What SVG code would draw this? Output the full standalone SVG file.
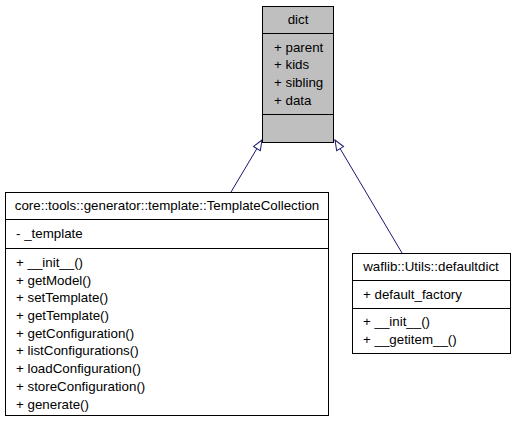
<svg xmlns="http://www.w3.org/2000/svg" width="515" height="421" viewBox="0 0 515 421">
<defs>
<style>
text{font-family:"Liberation Sans",Arial,sans-serif;font-size:13.33px;fill:#000}
.box{stroke:#000;stroke-width:1;fill:#fff}
.gray{fill:#bfbfbf}
.sep{stroke:#000;stroke-width:1}
.edge{stroke:#191970;stroke-width:1;fill:none}
.c{text-anchor:middle}
</style>
<marker id="tri" viewBox="0 0 12 10" refX="11" refY="5" markerWidth="12" markerHeight="10" markerUnits="userSpaceOnUse" orient="auto">
<path d="M1,1 L11,5 L1,9 Z" fill="#fff" stroke="#191970" stroke-width="1"/>
</marker>
</defs>
<rect width="515" height="421" fill="#fff"/>
<g id="edges">
<line class="edge" x1="231" y1="192" x2="262" y2="140" marker-end="url(#tri)"/>
<line class="edge" x1="402" y1="253" x2="335" y2="140" marker-end="url(#tri)"/>
</g>
<g id="dict">
<rect class="box gray" x="262.5" y="6.5" width="71" height="136"/>
<line class="sep" x1="262.5" y1="33.5" x2="333.5" y2="33.5"/>
<line class="sep" x1="262.5" y1="114.5" x2="333.5" y2="114.5"/>
<text class="c" x="298" y="24">dict</text>
<text x="274" y="52">+ parent</text>
<text x="274" y="69">+ kids</text>
<text x="274" y="87">+ sibling</text>
<text x="274" y="105">+ data</text>
</g>
<g id="TemplateCollection">
<rect class="box" x="5.5" y="192.5" width="323" height="223"/>
<line class="sep" x1="5.5" y1="219.5" x2="328.5" y2="219.5"/>
<line class="sep" x1="5.5" y1="248.5" x2="328.5" y2="248.5"/>
<text class="c" x="167" y="210">core::tools::generator::template::TemplateCollection</text>
<text x="16" y="238">- _template</text>
<text x="16" y="267">+ __init__()</text>
<text x="16" y="285">+ getModel()</text>
<text x="16" y="302">+ setTemplate()</text>
<text x="16" y="320">+ getTemplate()</text>
<text x="16" y="338">+ getConfiguration()</text>
<text x="16" y="355">+ listConfigurations()</text>
<text x="16" y="373">+ loadConfiguration()</text>
<text x="16" y="391">+ storeConfiguration()</text>
<text x="16" y="409">+ generate()</text>
</g>
<g id="defaultdict">
<rect class="box" x="352.5" y="253.5" width="158" height="100"/>
<line class="sep" x1="352.5" y1="280.5" x2="510.5" y2="280.5"/>
<line class="sep" x1="352.5" y1="308.5" x2="510.5" y2="308.5"/>
<text class="c" x="431" y="271">waflib::Utils::defaultdict</text>
<text x="363" y="299">+ default_factory</text>
<text x="363" y="326">+ __init__()</text>
<text x="363" y="344">+ __getitem__()</text>
</g>
</svg>
